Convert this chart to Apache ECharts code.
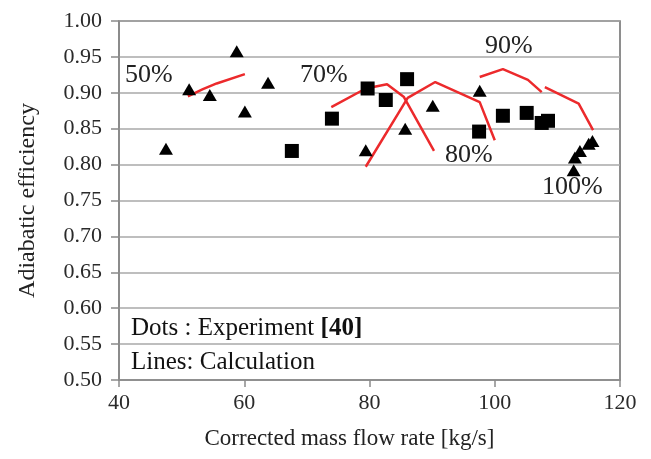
<!DOCTYPE html>
<html><head><meta charset="utf-8">
<script src="https://cdn.jsdelivr.net/npm/echarts@6/dist/echarts.min.js"></script>
<style>html,body{margin:0;padding:0;background:#fff}#c{width:651px;height:459px}</style>
</head><body><div id="c"></div>
<script>
// Experiment: triangles
var triX = [47.5, 51.2, 54.5, 58.8, 60.1, 63.8, 79.4, 85.7, 90.1, 97.6, 112.6, 112.8, 113.6, 115.0, 115.6];
var triY = [0.822, 0.905, 0.897, 0.958, 0.874, 0.914, 0.820, 0.850, 0.882, 0.903, 0.792, 0.810, 0.819, 0.829, 0.833];
// Experiment: squares
var sqX = [67.6, 74.0, 79.7, 82.6, 86.0, 97.5, 101.3, 105.1, 107.5, 108.5];
var sqY = [0.819, 0.864, 0.906, 0.890, 0.919, 0.846, 0.868, 0.872, 0.858, 0.861];
// Calculation lines
var l50X = [51.0, 53.4, 55.6, 60.1];
var l50Y = [0.895, 0.905, 0.913, 0.926];
var l70X = [73.9, 79.4, 82.8, 85.5, 90.3];
var l70Y = [0.880, 0.906, 0.912, 0.894, 0.819];
var l80X = [79.4, 86.1, 90.5, 97.6, 100.0];
var l80Y = [0.797, 0.893, 0.915, 0.887, 0.834];
var l90X = [97.6, 101.3, 105.3, 107.5];
var l90Y = [0.922, 0.933, 0.918, 0.901];
var l100X = [108.0, 113.4, 115.7];
var l100Y = [0.908, 0.885, 0.848];
// Axis ticks
var xTicks = [40, 60, 80, 100, 120];
var yTicks = [0.50, 0.55, 0.60, 0.65, 0.70, 0.75, 0.80, 0.85, 0.90, 0.95, 1.00];

function zip(a, b) { return a.map(function (v, i) { return [v, b[i]]; }); }

var SERIF = '"Liberation Serif", "Times New Roman", serif';
var RED = '#ec2a2c';
var chart = echarts.init(document.getElementById('c'), null, {renderer: 'canvas'});

function lineSeries(name, xs, ys) {
  return {
    name: name, type: 'line', data: zip(xs, ys), showSymbol: false, symbol: 'none',
    lineStyle: {color: RED, width: 2.5}, z: 3, animation: false
  };
}

chart.setOption({
  animation: false,
  backgroundColor: '#ffffff',
  grid: {left: 119, right: 31, top: 21, bottom: 79, show: true, borderColor: '#6a6a6a', borderWidth: 1.5},
  xAxis: {
    type: 'value', min: xTicks[0], max: xTicks[xTicks.length - 1], interval: 20,
    name: 'Corrected mass flow rate [kg/s]', nameLocation: 'middle', nameGap: 47,
    nameTextStyle: {fontFamily: SERIF, fontSize: 23, color: '#222', padding: [0, 40, 0, 0]},
    axisLine: {show: true, lineStyle: {color: '#8a8a8a', width: 1.5}},
    axisTick: {show: true, length: 7, lineStyle: {color: '#8a8a8a', width: 1.5}},
    axisLabel: {fontFamily: SERIF, fontSize: 22, color: '#2a2a2a', margin: 12},
    splitLine: {show: false}
  },
  yAxis: {
    type: 'value', min: yTicks[0], max: yTicks[yTicks.length - 1], interval: 0.05,
    name: 'Adiabatic efficiency', nameLocation: 'middle', nameGap: 79,
    nameTextStyle: {fontFamily: SERIF, fontSize: 24, color: '#222'},
    axisLine: {show: true, lineStyle: {color: '#8a8a8a', width: 1.5}},
    axisTick: {show: true, length: 8, lineStyle: {color: '#8a8a8a', width: 1.5}},
    axisLabel: {fontFamily: SERIF, fontSize: 22, color: '#2a2a2a', margin: 17,
      formatter: function (v) { return v.toFixed(2); }},
    splitLine: {show: true, lineStyle: {color: '#a8a8a8', width: 1.5}}
  },
  series: [
    lineSeries('50%', l50X, l50Y),
    lineSeries('70%', l70X, l70Y),
    lineSeries('80%', l80X, l80Y),
    lineSeries('90%', l90X, l90Y),
    lineSeries('100%', l100X, l100Y),
    {name: 'Exp tri', type: 'scatter', data: zip(triX, triY), symbol: 'triangle', symbolSize: [14, 12],
      itemStyle: {color: '#000', opacity: 1}, z: 4},
    {name: 'Exp sq', type: 'scatter', data: zip(sqX, sqY), symbol: 'rect', symbolSize: 14,
      itemStyle: {color: '#000', opacity: 1}, z: 4}
  ],
  graphic: [
    {type: 'text', left: 125, top: 62, style: {text: '50%', font: '26px ' + SERIF, fill: '#222'}},
    {type: 'text', left: 300, top: 62, style: {text: '70%', font: '26px ' + SERIF, fill: '#222'}},
    {type: 'text', left: 445, top: 142, style: {text: '80%', font: '26px ' + SERIF, fill: '#222'}},
    {type: 'text', left: 485, top: 33, style: {text: '90%', font: '26px ' + SERIF, fill: '#222'}},
    {type: 'text', left: 542, top: 174, style: {text: '100%', font: '26px ' + SERIF, fill: '#222'}},
    {type: 'text', left: 131, top: 316, style: {
      text: '{a|Dots : Experiment }{b|[40]}',
      rich: {a: {font: '25px ' + SERIF, fill: '#111'}, b: {font: 'bold 25px ' + SERIF, fill: '#111'}}}},
    {type: 'text', left: 131, top: 350, style: {text: 'Lines: Calculation', font: '25px ' + SERIF, fill: '#111'}}
  ]
});
</script></body></html>
